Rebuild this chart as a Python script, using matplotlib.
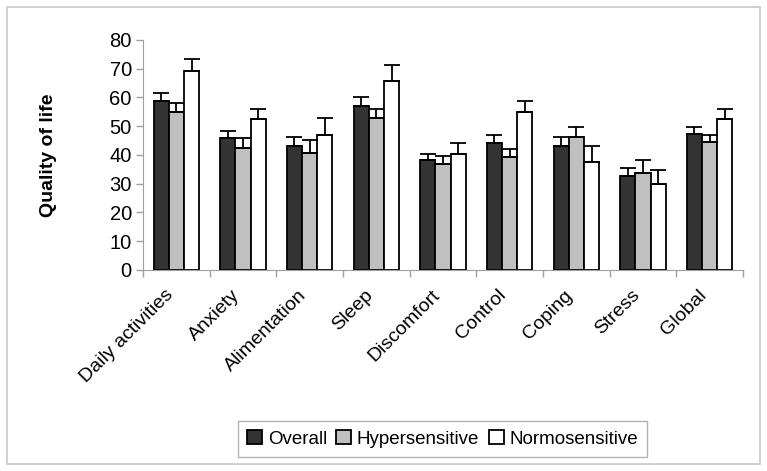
import numpy as np
import matplotlib
matplotlib.use('Agg')
import matplotlib.pyplot as plt
import matplotlib.transforms as mtransforms
from matplotlib.patches import Rectangle

plt.rcParams['font.family'] = ['Liberation Sans', 'DejaVu Sans']

categories = ['Daily activities', 'Anxiety', 'Alimentation', 'Sleep', 'Discomfort',
              'Control', 'Coping', 'Stress', 'Global']
overall = [58.8, 45.8, 43.0, 57.2, 38.1, 44.1, 43.0, 32.7, 47.4]
overall_err = [2.9, 2.7, 3.3, 3.1, 2.2, 2.7, 3.3, 2.8, 2.2]
hyper = [55.1, 42.5, 40.8, 52.8, 37.0, 39.2, 46.3, 33.7, 44.6]
hyper_err = [3.1, 3.3, 4.3, 3.2, 2.7, 2.8, 3.3, 4.4, 2.2]
normo = [69.2, 52.4, 46.8, 65.9, 40.2, 55.0, 37.6, 30.0, 52.4]
normo_err = [4.2, 3.7, 6.0, 5.4, 3.9, 3.8, 5.4, 4.9, 3.7]

series = [('Overall', overall, overall_err, '#333333'),
          ('Hypersensitive', hyper, hyper_err, '#c0c0c0'),
          ('Normosensitive', normo, normo_err, '#ffffff')]

fig = plt.figure(figsize=(7.67, 4.71), dpi=100)
ax = fig.add_axes([0.1864, 0.4268, 0.7823, 0.4883])

x = np.arange(len(categories))
w = 0.228
for i, (name, vals, errs, col) in enumerate(series):
    pos = x + (i - 1) * w
    ax.bar(pos, vals, width=w, color=col, edgecolor='black', linewidth=1.3, label=name, zorder=2)
    ax.errorbar(pos, vals, yerr=[np.zeros(len(errs)), errs], fmt='none', ecolor='black',
                elinewidth=1.3, capsize=6, capthick=1.3, zorder=3)

ax.set_xlim(-0.5, len(categories) - 0.5)
ax.set_ylim(0, 80)
ax.set_yticks(range(0, 81, 10))
ax.tick_params(axis='y', labelsize=14.5, length=5, color='#a0a0a0', width=1, pad=3)
ax.set_xticks(np.arange(len(categories) + 1) - 0.5, minor=False)
ax.set_xticklabels([])
ax.set_xticks(x, minor=True)
ax.set_xticklabels(categories, minor=True, rotation=45, ha='right', rotation_mode='anchor', fontsize=14)
ax.tick_params(axis='x', which='minor', length=0, pad=12)
ax.tick_params(axis='x', which='major', length=5, color='#a0a0a0', width=1)
shift = mtransforms.ScaledTranslation(-12 / 100, 0, fig.dpi_scale_trans)
for lbl in ax.get_xticklabels(minor=True):
    lbl.set_transform(lbl.get_transform() + shift)
for s in ['top', 'right']:
    ax.spines[s].set_visible(False)
for s in ['left', 'bottom']:
    ax.spines[s].set_color('#a0a0a0')
ax.set_ylabel('Quality of life', fontsize=14, fontweight='bold', labelpad=38)

leg = fig.legend(loc='center', bbox_to_anchor=(0.577, 0.068), ncol=3, fontsize=13.5,
                 frameon=True, fancybox=False, edgecolor='#a0a0a0', handlelength=0.8,
                 handleheight=0.8, handletextpad=0.3, columnspacing=0.5, borderpad=0.5)
leg.get_frame().set_linewidth(1)

fig.patches.append(Rectangle((0.009, 0.015), 0.982, 0.97, transform=fig.transFigure,
                             fill=False, edgecolor='#c8c8c8', linewidth=1.2))

fig.savefig('out.png', dpi=100)
